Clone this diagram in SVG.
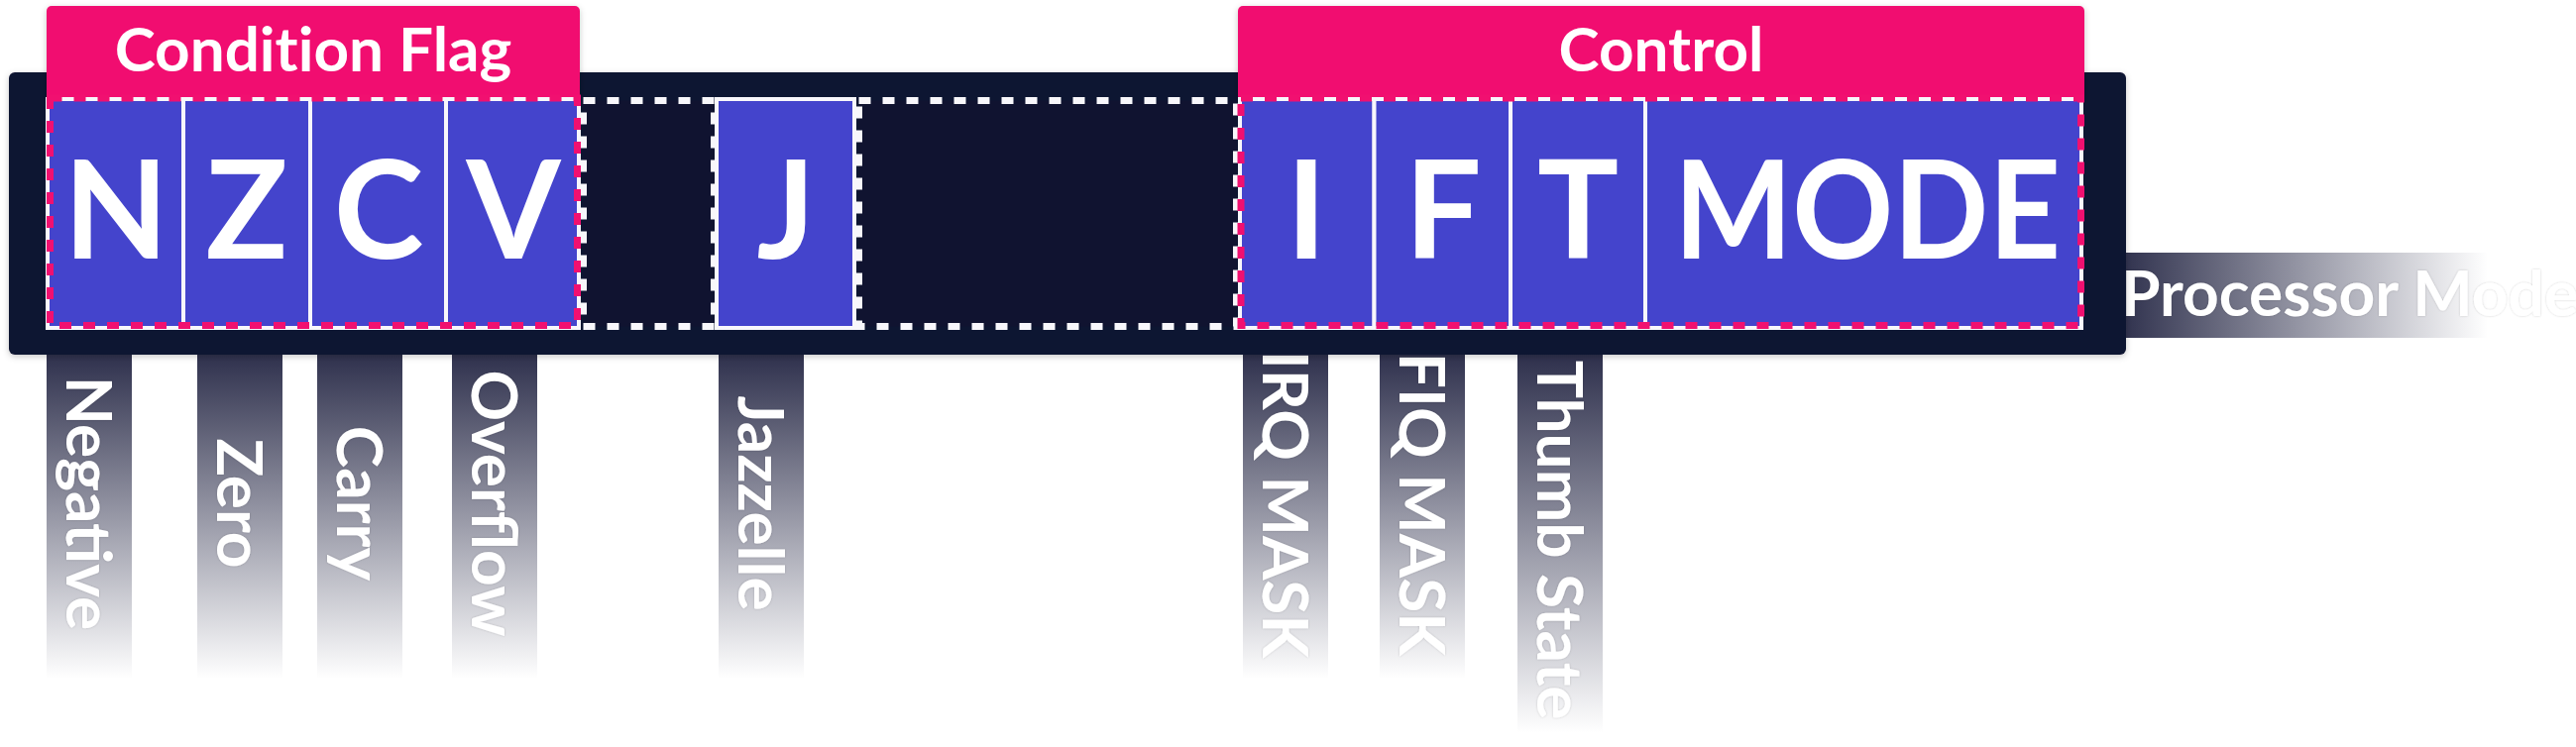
<svg xmlns="http://www.w3.org/2000/svg" width="2599" height="754" viewBox="0 0 2599 754">
<defs>
  <filter id="shadow" x="-5%" y="-10%" width="110%" height="130%">
    <feDropShadow dx="0" dy="2" stdDeviation="3" flood-color="#000" flood-opacity="0.22"/>
  </filter>
  <filter id="tshadow" x="-10%" y="-10%" width="120%" height="120%">
    <feDropShadow dx="0" dy="0" stdDeviation="1.2" flood-color="#000" flood-opacity="0.18"/>
  </filter>
  <linearGradient id="fadeV" x1="0" y1="0" x2="0" y2="1">
    <stop offset="0" stop-color="#2a2c49" stop-opacity="1"/>
    <stop offset="1" stop-color="#2a2c49" stop-opacity="0"/>
  </linearGradient>
  <linearGradient id="fadeH" x1="0" y1="0" x2="1" y2="0">
    <stop offset="0" stop-color="#2a2c49" stop-opacity="1"/>
    <stop offset="1" stop-color="#2a2c49" stop-opacity="0"/>
  </linearGradient>
</defs>
<style>
  .hdr { fill: #f11070; }
  .hdrtxt { font-family: Lato, "Liberation Sans", sans-serif; font-weight: 700; font-size: 62px; fill: #ffffff; text-anchor: middle; font-variant-ligatures: none; }
  .cell { fill: #4444cc; stroke: #f8f7fb; stroke-width: 4; }
  .empty { fill: #101330; stroke: #f8f7fb; stroke-width: 7; stroke-dasharray: 12 12; }
  .grp { fill: none; stroke: #f11070; stroke-width: 7; stroke-dasharray: 12 12; }
  .big { font-family: Lato, "Liberation Sans", sans-serif; font-weight: 700; font-size: 137px; fill: #ffffff; text-anchor: middle; }
  .bar { fill: url(#fadeV); }
  .hbar { fill: url(#fadeH); }
  .lbl { font-family: Lato, "Liberation Sans", sans-serif; font-weight: 700; font-size: 64px; fill: #ffffff; filter: url(#tshadow); }
  .vl { text-anchor: middle; }
</style>

<g id="labels">
  <g id="label-negative"><rect class="bar" x="47" y="350" width="86" height="335"/><text class="lbl vl" transform="translate(67,508) rotate(90)">Negative</text></g>
  <g id="label-zero"><rect class="bar" x="199" y="350" width="86" height="335"/><text class="lbl vl" transform="translate(219,508) rotate(90)">Zero</text></g>
  <g id="label-carry"><rect class="bar" x="320" y="350" width="86" height="335"/><text class="lbl vl" transform="translate(340,508) rotate(90)">Carry</text></g>
  <g id="label-overflow"><rect class="bar" x="456" y="350" width="86" height="335"/><text class="lbl vl" transform="translate(476,508) rotate(90)">Overflow</text></g>
  <g id="label-jazzelle"><rect class="bar" x="725" y="350" width="86" height="335"/><text class="lbl vl" transform="translate(745,508) rotate(90)">Jazzelle</text></g>
  <g id="label-irq"><rect class="bar" x="1254" y="350" width="86" height="335"/><text class="lbl vl" transform="translate(1274,509) rotate(90)">IRQ MASK</text></g>
  <g id="label-fiq"><rect class="bar" x="1392" y="350" width="86" height="335"/><text class="lbl vl" transform="translate(1412,509) rotate(90)">FIQ MASK</text></g>
  <g id="label-thumb"><rect class="bar" x="1531" y="350" width="86" height="390"/><text class="lbl vl" transform="translate(1551,545) rotate(90)">Thumb State</text></g>
  <g id="label-mode"><rect class="hbar" x="2130" y="255" width="380" height="86"/><text class="lbl" x="2140" y="319">Processor Mode</text></g>
</g>

<g id="register">
  <rect x="9" y="73" width="2136" height="285" rx="6" fill="#101330" filter="url(#shadow)"/>
</g>

<g id="header-condition-flag">
  <rect class="hdr" x="47" y="6" width="538" height="96" rx="5" filter="url(#shadow)"/>
  <text class="hdrtxt" x="316" y="72">Condition Flag</text>
</g>
<g id="header-control">
  <rect class="hdr" x="1249" y="6" width="854" height="96" rx="5" filter="url(#shadow)"/>
  <text class="hdrtxt" x="1676" y="72">Control</text>
</g>

<g id="cell-empty-1"><rect class="empty" x="588.5" y="101.5" width="132" height="228"/></g>
<g id="cell-empty-2"><rect class="empty" x="866.5" y="101.5" width="381" height="228"/></g>

<g id="cell-N"><rect class="cell" x="48" y="100" width="137" height="231"/><text class="big" x="117" y="261">N</text></g>
<g id="cell-Z"><rect class="cell" x="185" y="100" width="128" height="231"/><text class="big" x="249" y="261">Z</text></g>
<g id="cell-C"><rect class="cell" x="313" y="100" width="137" height="231"/><text class="big" x="382" y="261">C</text></g>
<g id="cell-V"><rect class="cell" x="450" y="100" width="134" height="231"/><text class="big" x="518" y="261">V</text></g>
<g id="cell-J"><rect class="cell" x="723" y="100" width="139" height="231"/><text class="big" x="793" y="261">J</text></g>
<g id="cell-I"><rect class="cell" x="1251" y="100" width="135.5" height="231"/><text class="big" x="1318" y="261">I</text></g>
<g id="cell-F"><rect class="cell" x="1386.5" y="100" width="137.5" height="231"/><text class="big" x="1456" y="261">F</text></g>
<g id="cell-T"><rect class="cell" x="1524" y="100" width="136" height="231"/><text class="big" x="1592" y="261">T</text></g>
<g id="cell-MODE"><rect class="cell" x="1660" y="100" width="440" height="231"/><text class="big" x="1884" y="261" textLength="390" lengthAdjust="spacingAndGlyphs">MODE</text></g>

<g id="group-condition-flag"><rect class="grp" x="50.5" y="99" width="532" height="229.5"/></g>
<g id="group-control"><rect class="grp" x="1252" y="99" width="847.5" height="229.5"/></g>
</svg>
